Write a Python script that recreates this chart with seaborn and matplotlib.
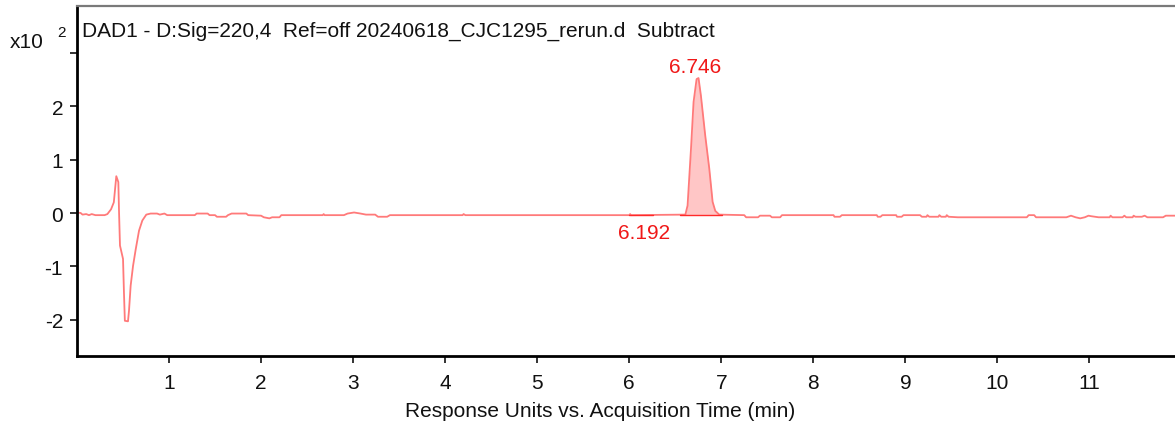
import numpy as np
import pandas as pd
import matplotlib
matplotlib.use("Agg")
import matplotlib.pyplot as plt
import seaborn as sns

# chromatogram trace, time in min, response in x10^2 units
time_min = [0.00, 0.04, 0.06, 0.10, 0.13, 0.16, 0.20, 0.30, 0.33, 0.37, 0.40,
            0.427, 0.449, 0.457, 0.467, 0.50, 0.51, 0.52, 0.554, 0.565, 0.583,
            0.609, 0.638, 0.674, 0.71, 0.753, 0.80, 0.87, 0.90, 0.95, 0.98,
            1.28, 1.30, 1.42, 1.44, 1.50, 1.52, 1.62, 1.64, 1.68, 1.84, 1.86,
            2.00, 2.03, 2.09, 2.12, 2.20, 2.22, 2.67, 2.68, 2.69, 2.90, 2.94,
            3.01, 3.08, 3.14, 3.24, 3.27, 3.37, 3.40, 4.19, 4.20, 4.22, 6.00,
            6.01, 6.02, 6.61, 6.634, 6.671, 6.699, 6.732, 6.753, 6.779, 6.826,
            6.87, 6.906, 6.935, 6.978, 7.25, 7.27, 7.40, 7.42, 7.53, 7.55,
            7.64, 7.66, 8.22, 8.23, 8.29, 8.31, 8.69, 8.70, 8.73, 8.75, 8.90,
            8.91, 8.96, 8.98, 9.16, 9.18, 9.23, 9.24, 9.26, 9.36, 9.37, 9.39,
            9.44, 9.45, 9.47, 9.57, 10.32, 10.34, 10.40, 10.42, 10.75, 10.80,
            10.85, 10.90, 10.95, 10.99, 11.02, 11.10, 11.13, 11.22, 11.23,
            11.25, 11.36, 11.38, 11.40, 11.47, 11.48, 11.50, 11.57, 11.60,
            11.63, 11.80, 11.83, 11.93]
signal = [0.01, 0.00, -0.03, -0.02, -0.04, -0.02, -0.04, -0.04, -0.02, 0.07, 0.20,
          0.69, 0.58, 0.00, -0.61, -0.86, -1.48, -2.02, -2.03, -1.83, -1.36,
          -0.99, -0.68, -0.33, -0.14, -0.03, -0.01, -0.01, -0.03, -0.01, -0.04,
          -0.04, -0.01, -0.01, -0.04, -0.04, -0.07, -0.07, -0.04, -0.01, -0.01, -0.04,
          -0.05, -0.08, -0.10, -0.08, -0.08, -0.04, -0.04, -0.02, -0.04, -0.04, -0.01,
          0.01, -0.01, -0.03, -0.03, -0.07, -0.07, -0.04, -0.04, -0.02, -0.04, -0.04,
          -0.02, -0.04, -0.03, 0.14, 1.20, 2.08, 2.51, 2.53, 2.20, 1.45,
          0.83, 0.21, 0.04, -0.03, -0.04, -0.08, -0.08, -0.05, -0.05, -0.08,
          -0.08, -0.04, -0.04, -0.07, -0.07, -0.04, -0.04, -0.07, -0.07, -0.04, -0.04,
          -0.07, -0.07, -0.04, -0.04, -0.07, -0.07, -0.04, -0.07, -0.07, -0.04, -0.07,
          -0.07, -0.04, -0.07, -0.08, -0.08, -0.04, -0.04, -0.08, -0.08, -0.05,
          -0.08, -0.10, -0.08, -0.05, -0.06, -0.08, -0.08, -0.08, -0.05,
          -0.08, -0.08, -0.05, -0.08, -0.08, -0.05, -0.07, -0.07, -0.05,
          -0.08, -0.08, -0.05, -0.05]

# integrated peaks
peak_rt = [6.192, 6.746]
peak_names = ["6.192", "6.746"]
peak_start = [6.00, 6.55]
peak_end = [6.26, 7.01]
peak_base = [-0.04, -0.03]
label_y = [-0.37, 2.74]

x_ticks = list(range(1, 12))
y_ticks = [-2, -1, 0, 1, 2, 3]
y_tick_labels = ["-2", "-1", "0", "1", "2", ""]

title = "DAD1 - D:Sig=220,4  Ref=off 20240618_CJC1295_rerun.d  Subtract"
xlabel = "Response Units vs. Acquisition Time (min)"

sns.set_style("white")
plt.rcParams['font.family'] = ['Liberation Sans', 'DejaVu Sans']
FS = 15

trace = pd.DataFrame({"t": time_min, "y": signal})

fig = plt.figure(figsize=(11.75, 4.27), dpi=100)
ax = fig.add_axes([77 / 1175, 1 - 357 / 427, 1 - 77 / 1175, 350 / 427])

# shaded area of the main peak
main = trace[(trace.t >= 6.60) & (trace.t <= 6.99)]
ax.fill_between(main.t, main.y, peak_base[1], color="#ffc6c6", lw=0)

sns.lineplot(data=trace, x="t", y="y", ax=ax, color="#ff7a7a", lw=1.3,
             estimator=None, sort=False)

for s, e, b in zip(peak_start, peak_end, peak_base):
    seg = pd.DataFrame({"t": [s, e], "y": [b, b]})
    sns.lineplot(data=seg, x="t", y="y", ax=ax, color="#ff2a2a", lw=1.0,
                 estimator=None)

for rt, name, ly in zip(peak_rt, peak_names, label_y):
    ax.text(rt - 0.03, ly, name, color="#f01818", fontsize=FS,
            ha="center", va="center")

ax.text(0.005, 0.931, title, transform=ax.transAxes, fontsize=FS,
        ha="left", va="center", color="#111111")

ax.set_xlim(0, 11.93)
ax.set_ylim(-2.68, 3.88)
ax.set_xticks(x_ticks)
ax.set_yticks(y_ticks)
ax.set_yticklabels(y_tick_labels)
ax.set_xlabel(xlabel, fontsize=FS, color="#111111")
ax.xaxis.set_label_coords((600 - 77) / 1098, -0.128)
ax.set_ylabel("")
ax.tick_params(axis="both", direction="out", length=5, width=1.2,
               colors="#111111", labelsize=FS, pad=5,
               bottom=True, left=True, top=False, right=False)
ax.tick_params(axis="x", pad=7)

for side in ["left", "bottom"]:
    ax.spines[side].set_color("black")
    ax.spines[side].set_linewidth(2)
ax.spines["top"].set_color("#7a7a7a")
ax.spines["top"].set_linewidth(1.6)
ax.spines["right"].set_visible(False)

fig.text(27 / 1175, 1 - 42 / 427, "x10", fontsize=FS, ha="center",
         va="center", color="#111111")
fig.text(62 / 1175, 1 - 33 / 427, "2", fontsize=11, ha="center",
         va="center", color="#111111")

fig.savefig("out.png", dpi=100)
